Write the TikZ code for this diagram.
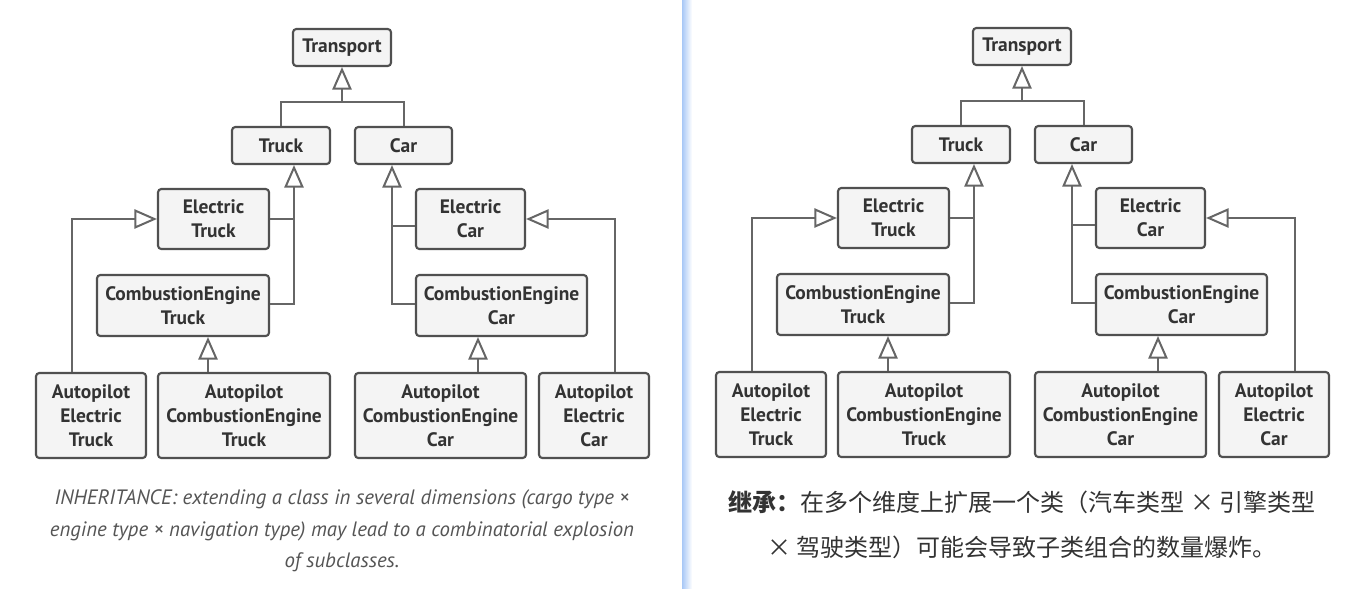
\documentclass[tikz,border=0pt]{standalone}
\usepackage{fontspec}
\setmainfont{PT Sans}
\newfontfamily\cjk{Noto Sans CJK SC}
\usetikzlibrary{arrows.meta}
\definecolor{boxline}{HTML}{505050}
\definecolor{boxfill}{HTML}{F4F4F4}
\definecolor{conncol}{HTML}{666666}
\definecolor{txt}{HTML}{333333}
\definecolor{captxt}{HTML}{555555}
\definecolor{divblue}{HTML}{A8C8F6}
\tikzset{
  cls/.style 2 args={draw=boxline, fill=boxfill, line width=1.6pt, rounded corners=2.5pt,
    minimum width=#1*0.75pt, minimum height=#2*0.75pt, inner sep=0pt,
    font=\bfseries\fontsize{14.6}{18}\selectfont, text=txt, align=center},
  conn/.style={draw=conncol, line width=1.5pt},
  inh/.style={conn, -{Triangle[length=17pt, width=14.5pt, fill=white, line width=1.5pt]}},
}
\begin{document}
\begin{tikzpicture}[x=0.75pt, y=-0.75pt]
\useasboundingbox (0,0) rectangle (1365,589);
\fill[white] (0,0) rectangle (1365,589);
\shade[left color=divblue, right color=white] (682,0) rectangle (692,589);

\foreach \dx/\dy/\p in {0/0/L, 680/-1/R}{
\begin{scope}[shift={(\dx,\dy)}]
  \node[cls={98}{37}] (T\p) at (342,47.5) {Transport};
  \node[cls={98}{37}] (Tr\p) at (281,145.5) {Truck};
  \node[cls={97}{37}] (C\p) at (403.5,145.5) {Car};
  \node[cls={111}{60}] (ET\p) at (213.5,219) {Electric\\Truck};
  \node[cls={172}{61}] (CT\p) at (183,305.5) {CombustionEngine\\Truck};
  \node[cls={109}{60}] (EC\p) at (470.5,219) {Electric\\Car};
  \node[cls={171}{61}] (CC\p) at (501.5,305.5) {CombustionEngine\\Car};
  \node[cls={110}{85}] (AET\p) at (91,415.5) {Autopilot\\Electric\\Truck};
  \node[cls={172}{85}] (ACT\p) at (244,415.5) {Autopilot\\CombustionEngine\\Truck};
  \node[cls={171}{85}] (ACC\p) at (440.5,415.5) {Autopilot\\CombustionEngine\\Car};
  \node[cls={110}{85}] (AEC\p) at (594,415.5) {Autopilot\\Electric\\Car};

  \draw[conn] (Tr\p.north) |- (C\p.north |- 0,102) -- (C\p.north);
  \draw[inh] (T\p.south |- 0,102) -- (T\p.south);

  \draw[inh] (ET\p.east) -| (Tr\p.south -| 294,0);
  \draw[conn] (CT\p.east |- 0,304) -| (ET\p.east -| 294,0);

  \draw[inh] (EC\p.west |- 0,226) -| (C\p.south -| 392,0);
  \draw[conn] (CC\p.west |- 0,304) -| (EC\p.west -| 392,226);

  \draw[inh] (AET\p.north -| 72,0) |- (ET\p.west);
  \draw[inh] (ACT\p.north -| 208,0) -- (CT\p.south -| 208,0);
  \draw[inh] (ACC\p.north -| 478,0) -- (CC\p.south -| 478,0);
  \draw[inh] (AEC\p.north -| 615,0) |- (EC\p.east);
\end{scope}}

\node[font=\itshape\fontsize{15.6}{23.6}\selectfont, text=captxt, align=center, inner sep=0pt]
  (capL) at (342,531) {INHERITANCE: extending a class in several dimensions (cargo type ×\\
  engine type × navigation type) may lead to a combinatorial explosion\\
  of subclasses.};
\node[font=\cjk\fontsize{18}{33.75}\selectfont, text=txt, align=center, inner sep=0pt]
  (capR) at (1022,524.5) {\textbf{继承：}在多个维度上扩展一个类（汽车类型 × 引擎类型\\
  × 驾驶类型）可能会导致子类组合的数量爆炸。};
\end{tikzpicture}
\end{document}
